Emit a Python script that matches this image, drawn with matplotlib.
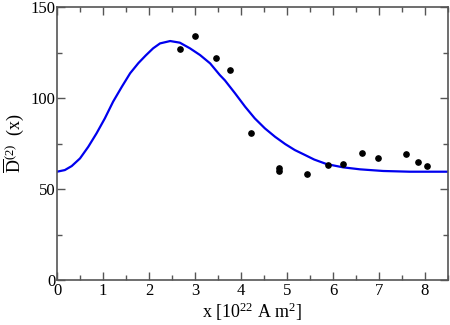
import numpy as np
import matplotlib
matplotlib.use('Agg')
import matplotlib.pyplot as plt
from matplotlib.ticker import MultipleLocator

plt.rcParams['font.family'] = ['Liberation Serif', 'DejaVu Serif']
plt.rcParams['mathtext.fontset'] = 'custom'
plt.rcParams['mathtext.rm'] = 'Liberation Serif'
plt.rcParams['mathtext.it'] = 'Liberation Serif:italic'

# observed points
pts_x = [2.67, 3.01, 3.45, 3.75, 4.22, 4.83, 4.83, 5.43, 5.90, 6.21, 6.64, 6.98, 7.59, 7.85, 8.05]
pts_y = [126.9, 134.0, 121.8, 115.6, 80.6, 61.4, 60.1, 58.2, 63.0, 63.9, 69.8, 67.0, 69.4, 65.0, 62.5]

# fitted curve
fit_x = [0.0, 0.17, 0.32, 0.50, 0.68, 0.86, 1.04, 1.22, 1.41, 1.59, 1.77, 1.93,
         2.09, 2.24, 2.46, 2.67, 2.89, 3.11, 3.33, 3.54, 3.65, 3.87, 4.09, 4.30,
         4.52, 4.74, 4.96, 5.17, 5.39, 5.59, 5.86, 6.22, 6.59, 7.09, 7.67, 8.5]
fit_y = [59.5, 60.4, 62.6, 66.8, 73.2, 80.6, 88.8, 98.0, 106.2, 113.6, 119.2, 123.4,
         127.3, 130.0, 131.3, 130.4, 127.3, 123.6, 119.0, 112.6, 109.7, 102.6, 95.2, 88.8,
         83.3, 78.7, 74.7, 71.4, 68.7, 66.2, 63.7, 61.9, 60.8, 59.9, 59.5, 59.5]

fig = plt.figure(figsize=(4.5, 3.25), dpi=100)
ax = fig.add_axes([57/450, 45/325, 391/450, 273/325])

ax.plot(fit_x, fit_y, color='#0000ee', linewidth=1.6, solid_joinstyle='round', zorder=2)
ax.plot(pts_x, pts_y, 'o', color='black', markersize=3.8, zorder=3)

ax.set_xlim(0, 8.5)
ax.set_ylim(0, 150)
ax.xaxis.set_major_locator(MultipleLocator(1))
ax.xaxis.set_minor_locator(MultipleLocator(0.5))
ax.yaxis.set_major_locator(MultipleLocator(50))
ax.yaxis.set_minor_locator(MultipleLocator(25))
ax.tick_params(which='both', direction='in', top=True, right=True, color='#555555',
               labelsize=12)
ax.tick_params(which='major', length=6, width=1)
ax.tick_params(which='minor', length=3.5, width=1)
ax.tick_params(axis='x', pad=2)
ax.tick_params(axis='y', pad=1)
for s in ax.spines.values():
    s.set_color('#555555')
    s.set_linewidth(1.2)

ax.set_xlabel(r'x [10$^{22}$ A m$^{2}$]', fontsize=13)
ax.xaxis.set_label_coords(0.5, -0.076)
ax.set_ylabel(r'$\overline{\mathrm{D}}^{(2)}$  (x)', fontsize=13)
ax.yaxis.set_label_coords(-0.08, 0.5)

fig.savefig('out.png', dpi=100)
